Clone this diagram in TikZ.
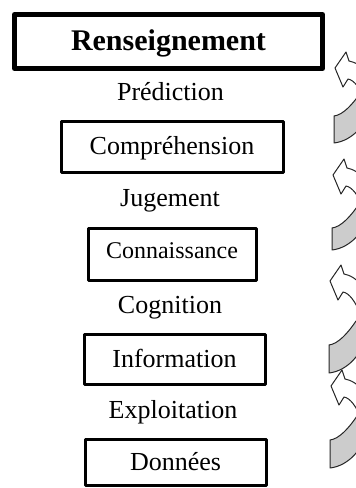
\documentclass[tikz,border=0pt]{standalone}
\usepackage{fontspec}
\setmainfont{Liberation Serif}
\begin{document}
\begin{tikzpicture}[x=1pt,y=-1pt,line join=round,line cap=round,
	boite/.style={draw,line width=3pt,inner sep=0pt,font=\fontsize{26}{31}\selectfont,text height=19.5pt,text depth=3pt},
	etape/.style={anchor=base,inner sep=0pt,font=\fontsize{26}{31}\selectfont},
	fleche/.style={draw=black!85,line width=1pt,fill=white},
	dos/.style={draw=black!85,line width=1pt,fill=gray!40}]
	\useasboundingbox (0,0) rectangle (356,488);
	\node [boite,line width=5pt,minimum width=308pt,minimum height=54pt,font=\bfseries\fontsize{30}{36}\selectfont,text height=22.5pt,text depth=5.5pt] (R) at (168.5,41.5) {Renseignement};
	\node [etape] (P) at (170.5,100) {Prédiction};
	\node [boite,minimum width=222pt,minimum height=51pt] (C) at (172,146.5) {Compréhension};
	\node [etape] (J) at (170,206) {Jugement};
	\node [boite,minimum width=168pt,minimum height=52pt,font=\fontsize{24}{29}\selectfont,text height=18pt,text depth=10pt] (K) at (172,254) {Connaissance};
	\node [etape] (G) at (170,313) {Cognition};
	\node [boite,minimum width=181pt,minimum height=50pt] (I) at (174.5,359) {Information};
	\node [etape] (E) at (173,418) {Exploitation};
	\node [boite,minimum width=181pt,minimum height=46pt] (D) at (175.5,462) {Données};
	% fleches courbes coupees au bord droit
	\begin{scope}
	\clip (0,0) rectangle (356,488);
	\foreach \tx/\ty/\gt/\gb in {335/68/116/143,333/175/228/250,330/281/345/373,331/386/440/468}{
		\path[fleche] (\tx,\ty) -- (\tx+11,\ty-16) -- (\tx+14,\ty-7) .. controls (\tx+20,\ty-6) and (\tx+27,\ty-2) .. (\tx+33,\ty+6) -- (\tx+30,\ty+32) .. controls (\tx+25,\ty+20) and (\tx+19,\ty+12) .. (\tx+13,\ty+11) -- (\tx+8,\ty+19) -- cycle;
		\path[dos] (\tx-1,\gt) -- (\tx-1,\gb) .. controls (\tx+8,\gb-1) and (\tx+18,\gb-6) .. (\tx+26,\gb-16) -- (\tx+36,\gt-10) -- (\tx+26,\gt-24) .. controls (\tx+18,\gt-12) and (\tx+8,\gt-1) .. (\tx-1,\gt) -- cycle;
	}
	\end{scope}
\end{tikzpicture}
\end{document}
